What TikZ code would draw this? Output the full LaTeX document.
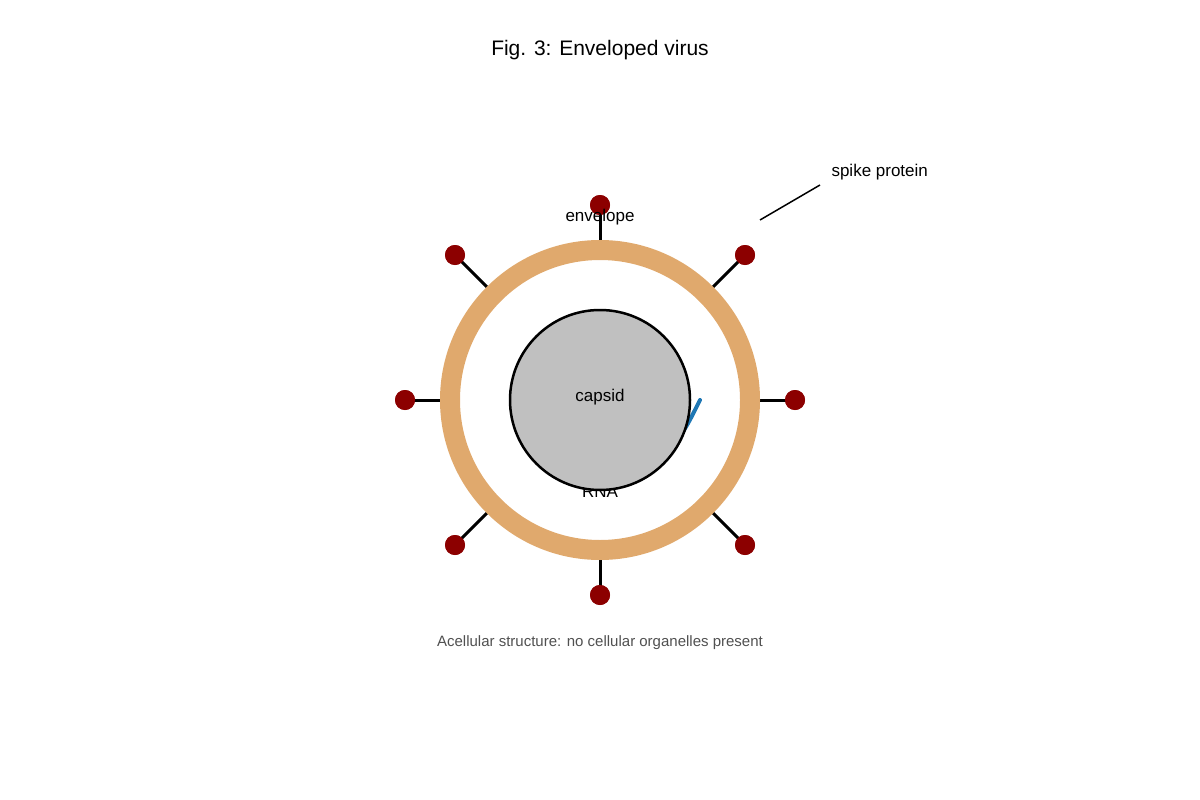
\documentclass[tikz,border=0pt]{standalone}
\usepackage{fontspec}
\setmainfont{Liberation Sans}
\begin{document}
\begin{tikzpicture}[x=1pt,y=-1pt,
  lbl/.style={font=\fontsize{17}{20}\selectfont},
  stalk/.style={line width=3pt,black},
  knob/.style={circle,fill=red!55!black,minimum size=20pt,inner sep=0pt}]
\useasboundingbox (0,0) rectangle (1200,800);
\node[font=\fontsize{21}{25}\selectfont] (title) at (600,50) {Fig. 3: Enveloped virus};
% spikes
\foreach \n/\ax/\ay/\bx/\by in {t/600/250/600/205, b/600/550/600/595, l/450/400/405/400, r/750/400/795/400,
  tr/710/290/745/255, tl/490/290/455/255, br/710/510/745/545, bl/490/510/455/545}{
  \coordinate (s\n) at (\ax,\ay);
  \node[knob] (k\n) at (\bx,\by) {};
  \draw[stalk] (s\n) -- (k\n.center);
  \node[knob] at (\bx,\by) {};
}
\node[circle,draw={rgb,255:red,224;green,169;blue,109},line width=20pt,minimum size=300pt,inner sep=0pt] (env) at (600,400) {};
\node[lbl] (envl) at (600,217) {envelope};
\node[lbl] (rna) at (600,492) {RNA};
\coordinate (r1) at (660,440);
\coordinate (r2) at (700,400);
\draw[line width=4pt,color={rgb,255:red,31;green,119;blue,180},line cap=round] (r1) .. controls (680,440) .. (r2);
\node[circle,draw,line width=2.5pt,fill={rgb,255:red,192;green,192;blue,192},minimum size=180pt,inner sep=0pt,font=\fontsize{17}{20}\selectfont] (capsid) at (600,400) {};
\node[lbl] at (600,397) {capsid};
\node[lbl,anchor=west] (spl) at (828,172) {spike protein};
\coordinate (lp) at (760,220);
\draw[line width=1.5pt] (lp) -- (820,185);
\node[font=\fontsize{15}{18}\selectfont,text={rgb,255:red,80;green,80;blue,80}] (cap) at (600,643) {Acellular structure: no cellular organelles present};
\end{tikzpicture}
\end{document}
